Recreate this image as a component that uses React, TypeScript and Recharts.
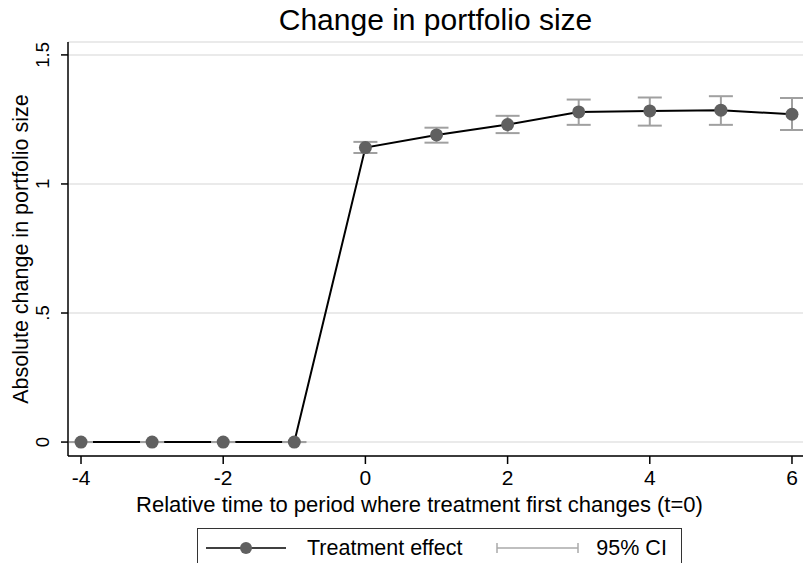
import React from "react";
import {
  ComposedChart,
  Line,
  Scatter,
  ErrorBar,
  XAxis,
  YAxis,
  CartesianGrid,
  Legend,
} from "recharts";

const periods = [-4, -3, -2, -1, 0, 1, 2, 3, 4, 5, 6];
const effect = [0, 0, 0, 0, 1.141, 1.19, 1.23, 1.279, 1.283, 1.286, 1.27];
const ciLow = [0, 0, 0, 0, 1.12, 1.16, 1.197, 1.229, 1.226, 1.229, 1.209];
const ciHigh = [0, 0, 0, 0, 1.163, 1.218, 1.264, 1.327, 1.335, 1.34, 1.333];
const xTicks = [-4, -2, 0, 2, 4, 6];
const yTicks = [0, 0.5, 1, 1.5];
const yTickLabels = ["0", ".5", "1", "1.5"];

const data = periods.map((t, i) => ({
  t,
  effect: effect[i],
  ci: [effect[i] - ciLow[i], ciHigh[i] - effect[i]],
}));

const FONT = "'Liberation Sans', Arial, sans-serif";

const YTick = (props: any) => {
  const { x, y, payload } = props;
  const idx = yTicks.indexOf(payload.value);
  return (
    <text
      x={x - 10}
      y={y}
      transform={`rotate(-90, ${x - 10}, ${y})`}
      textAnchor="middle"
      fontSize={18.5}
      fill="#000"
      fontFamily={FONT}
    >
      {idx >= 0 ? yTickLabels[idx] : payload.value}
    </text>
  );
};

const LegendBox = () => (
  <div
    style={{
      boxSizing: "border-box",
      width: 485,
      height: 40,
      border: "1px solid #333",
      background: "#fff",
      display: "flex",
      alignItems: "center",
      fontFamily: FONT,
      fontSize: 21.5,
      color: "#000",
    }}
  >
    <svg width={82} height={20} style={{ marginLeft: 8 }}>
      <line x1={0} y1={10} x2={80} y2={10} stroke="#000" strokeWidth={1.5} />
      <circle cx={40} cy={10} r={6} fill="#606060" />
    </svg>
    <span style={{ marginLeft: 19 }}>Treatment effect</span>
    <svg width={84} height={20} style={{ marginLeft: 34 }}>
      <line x1={1} y1={10} x2={82} y2={10} stroke="#aaa" strokeWidth={1.5} />
      <line x1={1} y1={5} x2={1} y2={15} stroke="#aaa" strokeWidth={1.5} />
      <line x1={82} y1={5} x2={82} y2={15} stroke="#aaa" strokeWidth={1.5} />
    </svg>
    <span style={{ marginLeft: 16 }}>95% CI</span>
  </div>
);

export default function App() {
  return (
    <div
      style={{
        position: "absolute",
        left: 0,
        top: 0,
        width: 803,
        height: 563,
        background: "#fff",
        fontFamily: FONT,
        overflow: "hidden",
      }}
    >
      <div
        style={{
          position: "absolute",
          left: 68,
          top: 4,
          width: 735,
          textAlign: "center",
          fontSize: 30,
          lineHeight: "32px",
          color: "#000",
        }}
      >
        Change in portfolio size
      </div>
      <ComposedChart
        width={803}
        height={563}
        data={data}
        margin={{ top: 42, right: 0, left: 0, bottom: 11 }}
      >
        <CartesianGrid vertical={false} stroke="#e3e3e3" strokeWidth={1.5} />
        <XAxis
          dataKey="t"
          type="number"
          domain={[-4.183, 6.155]}
          ticks={xTicks}
          allowDataOverflow
          height={56}
          tickSize={8}
          tickMargin={6}
          tick={{ fontSize: 21, fill: "#000", fontFamily: FONT }}
          stroke="#000"
          axisLine={{ stroke: "#000", strokeWidth: 1.5 }}
          tickLine={{ stroke: "#000", strokeWidth: 1.5 }}
          label={{
            value: "Relative time to period where treatment first changes (t=0)",
            position: "insideBottom",
            offset: 0,
            dx: -16,
            fontSize: 22,
            fill: "#000",
            fontFamily: FONT,
          }}
        />
        <XAxis
          xAxisId="top"
          dataKey="t"
          type="number"
          orientation="top"
          domain={[-4.183, 6.155]}
          height={0}
          tick={false}
          tickLine={false}
          axisLine={{ stroke: "#555", strokeWidth: 1.5 }}
        />
        <YAxis
          type="number"
          domain={[-0.054, 1.55]}
          ticks={yTicks}
          allowDataOverflow
          width={68}
          tickSize={7}
          tickMargin={2}
          tick={<YTick />}
          axisLine={{ stroke: "#000", strokeWidth: 1.5 }}
          tickLine={{ stroke: "#000", strokeWidth: 1.5 }}
          label={{
            value: "Absolute change in portfolio size",
            angle: -90,
            position: "insideLeft",
            offset: 0,
            dx: 20,
            style: { textAnchor: "middle" },
            fontSize: 21.5,
            fill: "#000",
            fontFamily: FONT,
          }}
        />
        <Legend
          content={<LegendBox />}
          wrapperStyle={{ position: "absolute", top: 528, left: 197, width: 485, height: 40 }}
        />
        <Line
          dataKey="effect"
          stroke="#000"
          strokeWidth={2}
          dot={{ r: 6.5, fill: "#606060", stroke: "none" }}
          activeDot={false}
          isAnimationActive={false}
        />
        <Scatter
          dataKey="effect"
          shape={() => <g />}
          isAnimationActive={false}
          legendType="none"
        >
          <ErrorBar
            dataKey="ci"
            direction="y"
            width={12}
            stroke="#a0a0a0"
            strokeWidth={2}
            isAnimationActive={false}
          />
        </Scatter>
      </ComposedChart>
    </div>
  );
}
